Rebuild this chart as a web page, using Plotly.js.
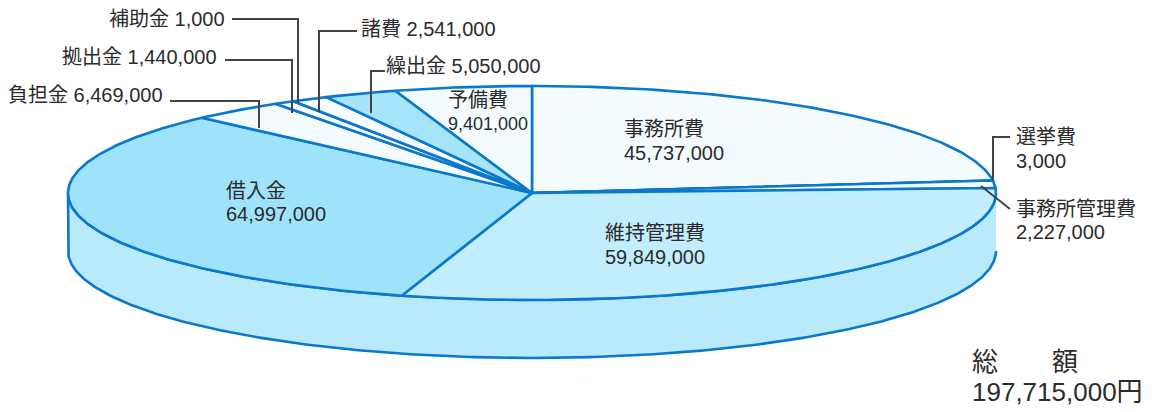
<!DOCTYPE html>
<html lang="ja"><head><meta charset="utf-8">
<script src="https://cdn.plot.ly/plotly-3.0.1.min.js"></script>
<style>html,body{margin:0;padding:0;background:#fff}#c{width:1160px;height:412px}</style>
</head><body><div id="c"></div>
<script>
// Data, clockwise from 12 o'clock
const categories = ["事務所費","選挙費","事務所管理費","維持管理費","借入金","負担金","拠出金","補助金","諸費","繰出金","予備費"];
const amounts = [45737000,3000,2227000,59849000,64997000,6469000,1440000,1000,2541000,5050000,9401000];
const sliceColors = ["#f3fbff","#f3fbff","#f6fcff","#c2edfc","#9fe3fb","#f3fbff","#f8fdff","#f8fdff","#f6fcff","#a6e4fa","#f3fbff"];
const totalLabel = "197,715,000円";

// Geometry of the tilted disc, in pixels
const cx = 532, cy = 193, rx = 464, ry = 107, depth = 58;
const edge = "#0a78cc", leader = "#444444", ink = "#2b2b2b";
const fontFam = '"Liberation Sans","Noto Sans CJK JP",sans-serif';

const total = amounts.reduce((a, b) => a + b, 0);
const px = t => cx + rx * Math.sin(t), py = t => cy - ry * Math.cos(t);
const arc = (a, b) => {
  const n = Math.max(2, Math.ceil((b - a) / 0.01));
  const xs = [], ys = [];
  for (let i = 0; i <= n; i++) { const t = a + (b - a) * i / n; xs.push(px(t)); ys.push(py(t)); }
  return [xs, ys];
};

const traces = [];
// Side wall: front half of the rim, dropped by the disc depth
{
  const [xs, ys] = arc(Math.PI / 2, 3 * Math.PI / 2);
  traces.push({
    type: "scatter", mode: "lines", hoverinfo: "skip", showlegend: false,
    x: xs.concat(xs.slice().reverse()),
    y: ys.concat(ys.slice().reverse().map(v => v + depth)),
    fill: "toself", fillcolor: "#b9eafb", line: { color: edge, width: 2.6 }
  });
}
// Slices
let run = 0;
amounts.forEach((v, i) => {
  const a = run / total * 2 * Math.PI;
  run += v;
  const b = run / total * 2 * Math.PI;
  const [xs, ys] = arc(a, b);
  traces.push({
    type: "scatter", mode: "lines", name: categories[i], showlegend: false, hoverinfo: "name",
    x: [cx].concat(xs, [cx]), y: [cy].concat(ys, [cy]),
    fill: "toself", fillcolor: sliceColors[i], line: { color: edge, width: 2.6 }
  });
});

// Text labels
const fmt = n => n.toLocaleString("en-US");
const val = name => fmt(amounts[categories.indexOf(name)]);
const T = (x, y, text, size) => ({
  x, y, text, xref: "x", yref: "y", xanchor: "left", yanchor: "middle", align: "left",
  showarrow: false, borderpad: 0, borderwidth: 0,
  font: { family: fontFam, size: size || 20, color: ink }
});
const annotations = [
  T(109, 19, "補助金 " + val("補助金")),
  T(62, 57, "拠出金 " + val("拠出金")),
  T(8, 95, "負担金 " + val("負担金")),
  T(361, 29, "諸費 " + val("諸費")),
  T(386, 66, "繰出金 " + val("繰出金")),
  T(448, 100, "予備費"), T(448, 124, val("予備費"), 18),
  T(624, 129, "事務所費"), T(624, 153, val("事務所費")),
  T(1016, 137, "選挙費"), T(1016, 161, val("選挙費")),
  T(1016, 209, "事務所管理費"), T(1016, 232, val("事務所管理費")),
  T(605, 233, "維持管理費"), T(605, 257, val("維持管理費")),
  T(226, 191, "借入金"), T(226, 214, val("借入金")),
  T(972, 362, "総", 26), T(1052, 362, "額", 26),
  T(972, 392, totalLabel, 26)
];

// Leader lines
const leaders = [
  "M232,19 L298,19 L298,103",
  "M225,60 L292,60 L292,113",
  "M170,101 L259,101 L259,128",
  "M357,31 L319,31 L319,112",
  "M385,71 L371,71 L371,113",
  "M1010,137 L993,137 L993,180",
  "M981,186 L1010,209"
];
const shapes = leaders.map(path => ({
  type: "path", path, xref: "x", yref: "y", layer: "above",
  line: { color: leader, width: 2 }
}));

Plotly.newPlot("c", traces, {
  width: 1160, height: 412, margin: { l: 0, r: 0, t: 0, b: 0 },
  paper_bgcolor: "#fff", plot_bgcolor: "#fff", showlegend: false,
  xaxis: { range: [0, 1160], visible: false, fixedrange: true },
  yaxis: { range: [412, 0], visible: false, fixedrange: true },
  annotations, shapes
}, { displayModeBar: false, staticPlot: true });
</script></body></html>
